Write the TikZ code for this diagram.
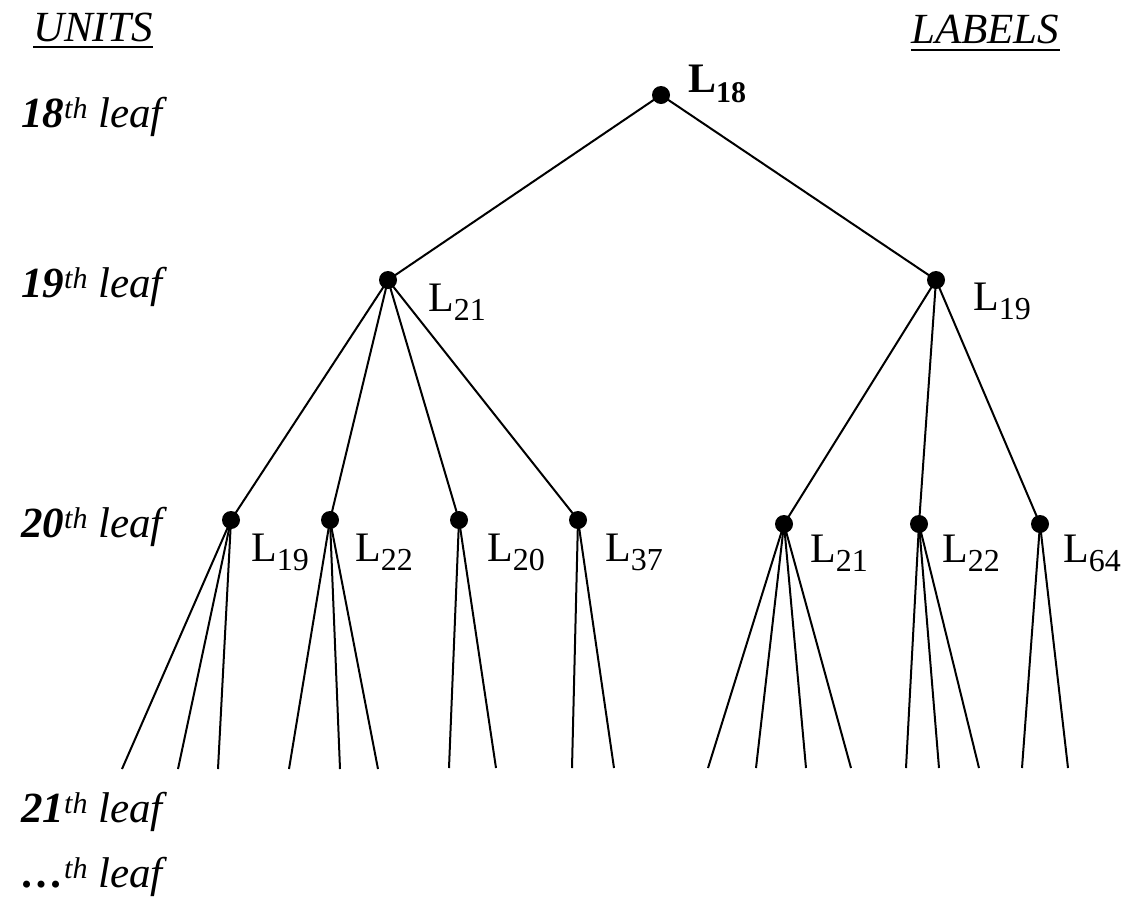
\documentclass[tikz,border=0pt]{standalone}
\usepackage{fontspec}
\setmainfont{Liberation Serif}
\newcommand\lsub[1]{\raisebox{-9pt}{\fontsize{32}{32}\selectfont #1}}
\newcommand\bsub[1]{\raisebox{-10pt}{\fontsize{30}{30}\selectfont\bfseries #1}}
\newcommand\thsup{\raisebox{9pt}{\fontsize{30}{30}\selectfont\itshape th}}
\tikzset{
  dot/.style={circle, fill=black, inner sep=0pt, minimum size=18pt},
  edge/.style={line width=2pt},
  lab/.style={anchor=base west, inner sep=0pt, font=\fontsize{42}{42}\selectfont},
  unit/.style={anchor=base west, inner sep=0pt, font=\fontsize{43}{43}\selectfont\itshape},
  uline/.style={line width=2pt}
}
\begin{document}
\begin{tikzpicture}[x=1pt,y=-1pt]
\fill[white] (0,0) rectangle (1124,903);
\useasboundingbox (0,0) rectangle (1124,903);

% headings
\node[unit] (units) at (33,41) {UNITS};
\node[unit] (labels) at (911,43) {LABELS};
\draw[uline] ([yshift=-6pt]units.base west) -- ([yshift=-6pt]units.base east);
\draw[uline] ([yshift=-7pt]labels.base west) -- ([yshift=-7pt]labels.base east);

% left column
\node[unit] (u18) at (21,127) {\textbf{18}\thsup{} leaf};
\node[unit] (u19) at (21,297) {\textbf{19}\thsup{} leaf};
\node[unit] (u20) at (21,537) {\textbf{20}\thsup{} leaf};
\node[unit] (u21) at (21,822) {\textbf{21}\thsup{} leaf};
\node[unit] (udots) at (21,887) {\textbf{\dots}\thsup{} leaf};

% dots
\node[dot] (r) at (661,95) {};
\node[dot] (a) at (388,280) {};
\node[dot] (b) at (936,280) {};
\node[dot] (a1) at (231,520) {};
\node[dot] (a2) at (330,520) {};
\node[dot] (a3) at (459,520) {};
\node[dot] (a4) at (578,520) {};
\node[dot] (b1) at (784,524) {};
\node[dot] (b2) at (919,524) {};
\node[dot] (b3) at (1040,524) {};

% labels
\node[lab] (lr) at (688,92) {\textbf{L}\bsub{18}};
\node[lab] (la) at (428,311) {L\lsub{21}};
\node[lab] (lb) at (973,310) {L\lsub{19}};
\node[lab] (la1) at (251,561) {L\lsub{19}};
\node[lab] (la2) at (355,561) {L\lsub{22}};
\node[lab] (la3) at (487,561) {L\lsub{20}};
\node[lab] (la4) at (605,561) {L\lsub{37}};
\node[lab] (lb1) at (810,562) {L\lsub{21}};
\node[lab] (lb2) at (942,562) {L\lsub{22}};
\node[lab] (lb3) at (1063,562) {L\lsub{64}};

% leaf ends
\coordinate (e1) at (122,769);
\coordinate (e2) at (178,769);
\coordinate (e3) at (218,769);
\coordinate (e4) at (289,769);
\coordinate (e5) at (340,769);
\coordinate (e6) at (378,769);
\coordinate (e7) at (449,768);
\coordinate (e8) at (496,768);
\coordinate (e9) at (572,768);
\coordinate (e10) at (614,768);
\coordinate (f1) at (708,768);
\coordinate (f2) at (756,768);
\coordinate (f3) at (806,768);
\coordinate (f4) at (851,768);
\coordinate (f5) at (906,768);
\coordinate (f6) at (939,768);
\coordinate (f7) at (979,768);
\coordinate (f8) at (1022,768);
\coordinate (f9) at (1068,768);

% edges
\draw[edge] (r.center) -- (a.center);
\draw[edge] (r.center) -- (b.center);
\foreach \c in {a1,a2,a3,a4} \draw[edge] (a.center) -- (\c.center);
\foreach \c in {b1,b2,b3} \draw[edge] (b.center) -- (\c.center);
\foreach \e in {e1,e2,e3} \draw[edge] (a1.center) -- (\e);
\foreach \e in {e4,e5,e6} \draw[edge] (a2.center) -- (\e);
\foreach \e in {e7,e8} \draw[edge] (a3.center) -- (\e);
\foreach \e in {e9,e10} \draw[edge] (a4.center) -- (\e);
\foreach \e in {f1,f2,f3,f4} \draw[edge] (b1.center) -- (\e);
\foreach \e in {f5,f6,f7} \draw[edge] (b2.center) -- (\e);
\foreach \e in {f8,f9} \draw[edge] (b3.center) -- (\e);
\end{tikzpicture}
\end{document}
